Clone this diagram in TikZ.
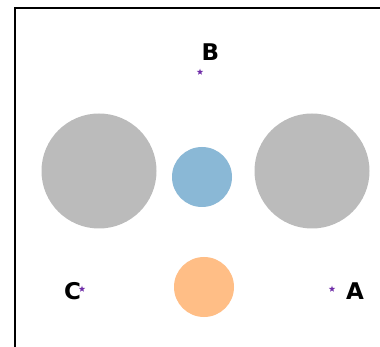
\documentclass[tikz,border=0pt]{standalone}
\usepackage{fontspec}
\setmainfont{DejaVu Sans}
\usetikzlibrary{shapes.geometric}
\definecolor{disk}{HTML}{BBBBBB}
\definecolor{bluedisk}{HTML}{8AB8D6}
\definecolor{orangedisk}{HTML}{FFBE86}
\definecolor{starpurple}{HTML}{6F2DA8}
\tikzset{
  px/.style={x=1pt,y=-1pt},
  blob/.style={circle,inner sep=0pt,minimum size=#1},
  mark star/.style={star,star points=5,star point ratio=2.4,fill=starpurple,draw=none,inner sep=0pt,minimum size=6.5pt},
  lbl/.style={font=\bfseries\fontsize{23}{25}\selectfont,inner sep=0pt,anchor=center},
  spine/.style={line width=2pt,black}
}
\begin{document}
\begin{tikzpicture}[px]
  \useasboundingbox[fill=white] (0,0) rectangle (380,347);
  % axes spines (left and top)
  \coordinate (corner) at (15,8);
  \coordinate (topend) at (381,8);
  \coordinate (leftend) at (15,348);
  \draw[spine] (topend) -- (corner) -- (leftend);
  % disks
  \node[blob=115pt,fill=disk] (g1) at (99,171) {};
  \node[blob=115pt,fill=disk] (g2) at (312,171) {};
  \node[blob=60pt,fill=bluedisk] (b) at (202,177) {};
  \node[blob=60pt,fill=orangedisk] (o) at (204,287) {};
  % points and labels
  \node[mark star] (sB) at (200,72) {};
  \node[mark star] (sC) at (82,289) {};
  \node[mark star] (sA) at (332,289) {};
  \node[lbl] (lB) at (210.5,52.5) {B};
  \node[lbl] (lC) at (72.5,291.5) {C};
  \node[lbl] (lA) at (355,291.5) {A};
\end{tikzpicture}
\end{document}
